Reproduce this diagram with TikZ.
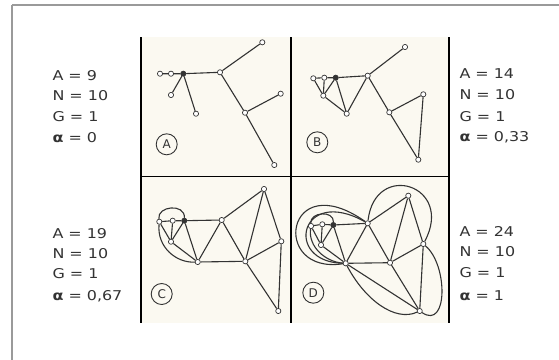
\documentclass[tikz,border=0pt]{standalone}
\usepackage{fontspec}
\setmainfont{DejaVu Sans}
\newfontfamily\valfont{DejaVu Sans}[FakeStretch=1.18]
\usetikzlibrary{backgrounds}
\definecolor{gline}{HTML}{333333}
\definecolor{paper}{HTML}{FBF9F1}
\definecolor{frame}{HTML}{9A9A9A}
\definecolor{txt}{HTML}{333333}
\tikzset{
  v/.style={circle,draw=gline,fill=white,inner sep=0pt,minimum size=5.2pt,line width=0.7pt},
  vd/.style={v,fill=gline},
  e/.style={draw=gline,line width=1.1pt},
  lab/.style={circle,draw=gline,line width=0.9pt,minimum size=21pt,inner sep=0pt,font=\fontsize{12}{12}\selectfont,text=gline},
  val/.style={anchor=base west,text=txt,inner sep=0pt,font=\valfont\fontsize{13.5}{16}\selectfont},
  divider/.style={draw=black,line width=1.6pt}
}
\begin{document}
\begin{tikzpicture}[x=1pt,y=-1pt]
\useasboundingbox (0,0) rectangle (559,359);

% ---------- A ----------
\node[v]  (a1)  at (160,73.7) {};
\node[v]  (a2)  at (171,73.7) {};
\node[vd] (a3)  at (183.3,73.7) {};
\node[v]  (a4)  at (220,72.3) {};
\node[v]  (a5)  at (262.3,42.3) {};
\node[v]  (a6)  at (171,95) {};
\node[v]  (a7)  at (196,113.7) {};
\node[v]  (a8)  at (245,112.7) {};
\node[v]  (a9)  at (280.7,93.7) {};
\node[v]  (a10) at (274.3,165) {};
\node[lab] (la) at (166.7,144.3) {A};

% ---------- B ----------
\node[v]  (b1)  at (313.3,78.3) {};
\node[v]  (b2)  at (324.3,77.7) {};
\node[vd] (b3)  at (335.7,77.7) {};
\node[v]  (b4)  at (367.7,75.7) {};
\node[v]  (b5)  at (405,47) {};
\node[v]  (b6)  at (323.3,95.7) {};
\node[v]  (b7)  at (346.7,113.7) {};
\node[v]  (b8)  at (389.3,112.3) {};
\node[v]  (b9)  at (423.3,94.3) {};
\node[v]  (b10) at (418.3,159.7) {};
\node[lab] (lb) at (317.3,142.3) {B};

% ---------- C ----------
\node[v]  (c1)  at (159.3,221.7) {};
\node[v]  (c2)  at (172.7,220.7) {};
\node[vd] (c3)  at (184.3,220.7) {};
\node[v]  (c4)  at (221.7,220) {};
\node[v]  (c5)  at (264,189) {};
\node[v]  (c6)  at (171,241.7) {};
\node[v]  (c7)  at (197.7,262) {};
\node[v]  (c8)  at (245.3,261.3) {};
\node[v]  (c9)  at (281.3,241.3) {};
\node[v]  (c10) at (278.3,311) {};
\node[lab] (lc) at (161.7,294) {C};

% ---------- D ----------
\node[v]  (d1)  at (311,226) {};
\node[v]  (d2)  at (322.3,224.3) {};
\node[vd] (d3)  at (333.3,225) {};
\node[v]  (d4)  at (367.7,223.3) {};
\node[v]  (d5)  at (408.3,195.7) {};
\node[v]  (d6)  at (321,245) {};
\node[v]  (d7)  at (345.7,263.3) {};
\node[v]  (d8)  at (390,262.7) {};
\node[v]  (d9)  at (423.3,244) {};
\node[v]  (d10) at (419.7,311) {};
\node[lab] (ld) at (313.3,292.7) {D};

\begin{pgfonlayer}{background}
\fill[white] (0,0) rectangle (559,359);
\draw[frame,line width=2.4pt] (12,5) -- (570,5);
\draw[frame,line width=2.4pt] (12,5) -- (12,370);
\fill[paper] (141,37) rectangle (449,323);
% A edges
\draw[e] (a1)--(a2) (a2)--(a3) (a3)--(a4) (a4)--(a5) (a3)--(a6) (a3)--(a7)
         (a4)--(a8) (a8)--(a9) (a8)--(a10);
% B edges
\draw[e] (b1)--(b2) (b2)--(b3) (b3)--(b4) (b4)--(b5) (b1)--(b6) (b2)--(b6)
         (b3)--(b6) (b6)--(b7) (b3)--(b7) (b7)--(b4) (b4)--(b8) (b8)--(b9)
         (b9)--(b10) (b8)--(b10);
% C edges
\draw[e] (c1)--(c2) (c2)--(c3) (c3)--(c4) (c4)--(c5) (c1)--(c6) (c2)--(c6)
         (c3)--(c6) (c6)--(c7) (c3)--(c7) (c7)--(c4) (c4)--(c8) (c8)--(c9)
         (c9)--(c10) (c8)--(c10) (c7)--(c8) (c5)--(c8) (c5)--(c9);
\draw[e] (c1) .. controls (157,206) and (185,203) .. (c3);
\draw[e] (c1) .. controls (157,247) and (176,263) .. (c7);
% D edges
\draw[e] (d1)--(d2) (d2)--(d3) (d3)--(d4) (d4)--(d5) (d1)--(d6) (d2)--(d6)
         (d3)--(d6) (d6)--(d7) (d3)--(d7) (d7)--(d4) (d4)--(d8) (d8)--(d9)
         (d9)--(d10) (d8)--(d10) (d7)--(d8) (d5)--(d8) (d5)--(d9) (d7)--(d10);
\draw[e] (d1) .. controls (310,212) and (334,210) .. (d3);
\draw[e] (d1) .. controls (308,247) and (326,262) .. (d7);
\draw[e] (d7) .. controls (283,262) and (300,185) .. (d4);
\draw[e] (d7) .. controls (270,275) and (285,165) .. (d4);
\draw[e] (d4) .. controls (375,160) and (455,185) .. (d9);
\draw[e] (d9) .. controls (448,265) and (448,330) .. (d10);
\draw[e] (d7) .. controls (365,300) and (395,322) .. (d10);
% dividers
\draw[divider] (141,37) -- (141,323);
\draw[divider] (291,37) -- (291,323);
\draw[divider] (449,37) -- (449,323);
\draw[divider] (141,176.5) -- (449,176.5);
\end{pgfonlayer}

% ---------- values ----------
\node[val] (t1) at (52.3,80.7) {A = 9};
\node[val] (t2) at (52.3,100.7) {N = 10};
\node[val] (t3) at (52.3,121) {G = 1};
\node[val] (t4) at (52.3,142) {\textbf{α} = 0};

\node[val] (t5) at (459.3,78.3) {A = 14};
\node[val] (t6) at (459.3,99.7) {N = 10};
\node[val] (t7) at (459.3,121) {G = 1};
\node[val] (t8) at (459.3,141.7) {\textbf{α} = 0,33};

\node[val] (t9)  at (52.3,238) {A = 19};
\node[val] (t10) at (52.3,258) {N = 10};
\node[val] (t11) at (52.3,278.5) {G = 1};
\node[val] (t12) at (52.3,300.5) {\textbf{α} = 0,67};

\node[val] (t13) at (459.3,236.7) {A = 24};
\node[val] (t14) at (459.3,256.7) {N = 10};
\node[val] (t15) at (459.3,277.3) {G = 1};
\node[val] (t16) at (459.3,300) {\textbf{α} = 1};
\end{tikzpicture}
\end{document}
